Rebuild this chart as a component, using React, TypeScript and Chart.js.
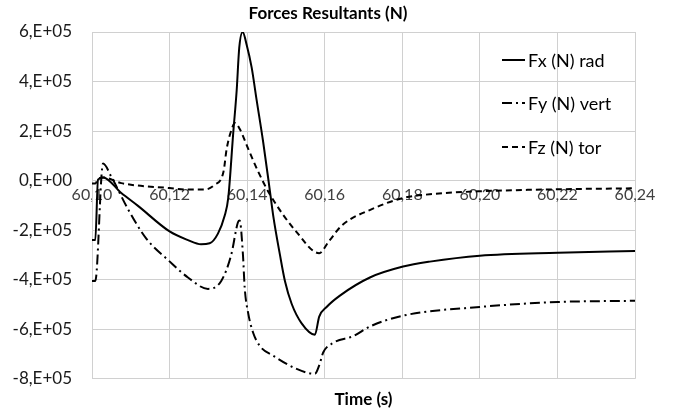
import React, { useEffect, useRef } from "react";
import { Chart, registerables } from "chart.js";

Chart.register(...registerables);

const FONT = "Lato, 'Open Sans', sans-serif";

const fxTime = [60.1, 60.10085, 60.10155, 60.10284, 60.10755, 60.11186, 60.12, 60.12474, 60.1281, 60.13033, 60.13247, 60.1342, 60.13513, 60.13642, 60.1373, 60.13796, 60.13884, 60.13987, 60.14116, 60.14245, 60.14415, 60.14588, 60.14673, 60.14845, 60.14974, 60.15147, 60.15405, 60.15747, 60.15858, 60.16049, 60.16392, 60.17165, 60.1802, 60.1871, 60.2, 60.2201, 60.24];
const fxValues = [-2.4e5, -2.4e5, 4e3, 1.3e4, -5.0e4, -1.02e5, -2.05e5, -2.4e5, -2.57e5, -2.53e5, -2.14e5, -1.42e5, -7e4, 1.94e5, 3.64e5, 5.36e5, 6.0e5, 5.49e5, 4.57e5, 3.25e5, 1.54e5, -4.3e4, -1.42e5, -2.99e5, -4.05e5, -4.97e5, -5.76e5, -6.22e5, -5.49e5, -5.1e5, -4.64e5, -3.91e5, -3.47e5, -3.27e5, -3.03e5, -2.91e5, -2.84e5];

const fyTime = [60.1, 60.10085, 60.10284, 60.10497, 60.10928, 60.114, 60.12, 60.12474, 60.1299, 60.13332, 60.1359, 60.13763, 60.13807, 60.13892, 60.13936, 60.14028, 60.14157, 60.1433, 60.14673, 60.15276, 60.15747, 60.15858, 60.15961, 60.16219, 60.16735, 60.17165, 60.1802, 60.2, 60.2201, 60.24];
const fyValues = [-4.05e5, -4.05e5, 6.9e4, 1.6e4, -1.15e5, -2.34e5, -3.26e5, -3.91e5, -4.37e5, -4.05e5, -2.99e5, -1.68e5, -1.61e5, -2.99e5, -4.31e5, -5.36e5, -6.15e5, -6.68e5, -7.07e5, -7.6e5, -7.8e5, -7.46e5, -6.94e5, -6.55e5, -6.28e5, -5.89e5, -5.45e5, -5.1e5, -4.9e5, -4.85e5];

const fzTime = [60.1, 60.10085, 60.1015, 60.10284, 60.10755, 60.12, 60.12474, 60.129, 60.1316, 60.1339, 60.13472, 60.136, 60.13686, 60.13814, 60.14028, 60.14286, 60.14588, 60.15276, 60.15858, 60.16098, 60.16443, 60.17216, 60.1802, 60.1871, 60.2, 60.2201, 60.24];
const fzValues = [-1.2e4, -1.2e4, 5e3, 1.3e4, -1e4, -3.0e4, -3.6e4, -3.6e4, -1.7e4, 3.6e4, 1.28e5, 2.07e5, 2.33e5, 2.07e5, 1.28e5, 3.6e4, -5.6e4, -2.08e5, -2.93e5, -2.47e5, -1.81e5, -1.15e5, -7e4, -5.5e4, -4.3e4, -3.5e4, -3.1e4];

const seriesNames = ["Fx (N) rad", "Fy (N) vert", "Fz (N) tor"];
const seriesDashes = [[], [10, 4, 2, 4], [6, 4]];
const chartTitle = "Forces Resultants (N)";
const xTitle = "Time (s)";

const toPoints = (xs: number[], ys: number[]) => xs.map((x, i) => ({ x, y: ys[i] }));

function fmtY(v: number) {
  if (v === 0) return "0,E+00";
  const e = Math.floor(Math.log10(Math.abs(v)) + 1e-9);
  const m = Math.round(v / Math.pow(10, e));
  return `${m},E+${String(e).padStart(2, "0")}`;
}

export default function App() {
  const ref = useRef<HTMLCanvasElement | null>(null);
  useEffect(() => {
    if (!ref.current) return;
    const textPlugin = {
      id: "texts",
      afterDraw(chart: any) {
        const ctx = chart.ctx;
        const area = chart.chartArea;
        ctx.save();
        ctx.fillStyle = "#000";
        ctx.textAlign = "center";
        ctx.textBaseline = "middle";
        ctx.font = `bold 17px ${FONT}`;
        ctx.fillText(chartTitle, 328, 14);
        ctx.fillText(xTitle, (area.left + area.right) / 2, 400);
        // legend
        const ys = [60, 103, 147];
        ctx.font = `18px ${FONT}`;
        ctx.textAlign = "left";
        seriesNames.forEach((name, i) => {
          ctx.strokeStyle = "#000";
          ctx.lineWidth = 2;
          ctx.setLineDash(seriesDashes[i]);
          ctx.beginPath();
          ctx.moveTo(502, ys[i]);
          ctx.lineTo(525, ys[i]);
          ctx.stroke();
          ctx.setLineDash([]);
          ctx.fillStyle = "#000";
          ctx.fillText(name, 528, ys[i] + 1);
        });
        ctx.restore();
      },
    };
    const chart = new Chart(ref.current, {
      type: "line",
      data: {
        datasets: [
          { label: seriesNames[0], data: toPoints(fxTime, fxValues), borderDash: seriesDashes[0] },
          { label: seriesNames[1], data: toPoints(fyTime, fyValues), borderDash: seriesDashes[1] },
          { label: seriesNames[2], data: toPoints(fzTime, fzValues), borderDash: seriesDashes[2] },
        ].map((d) => ({
          ...d,
          borderColor: "#000",
          borderWidth: 2,
          pointRadius: 0,
          fill: false,
          cubicInterpolationMode: "monotone" as const,
        })),
      },
      options: {
        animation: false,
        responsive: false,
        layout: { padding: { top: 32, bottom: 22, right: 43, left: 0 } },
        plugins: { legend: { display: false }, title: { display: false }, tooltip: { enabled: false } },
        scales: {
          x: {
            type: "linear",
            position: { y: 0 } as any,
            min: 60.1,
            max: 60.24,
            ticks: {
              stepSize: 0.02,
              color: "#404040",
              font: { family: FONT, size: 16 },
              padding: 5,
              maxRotation: 0,
              autoSkip: false,
              callback: (v: any) => Number(v).toFixed(2).replace(".", ","),
            },
            grid: { color: "#d0d0d0", drawTicks: false },
            border: { color: "#d0d0d0" },
          },
          y: {
            min: -8e5,
            max: 6e5,
            afterFit: (s: any) => {
              s.width = 92;
            },
            ticks: {
              stepSize: 2e5,
              color: "#1a1a1a",
              font: { family: FONT, size: 17 },
              padding: 20,
              callback: (v: any) => fmtY(Number(v)),
            },
            grid: { color: "#d0d0d0", drawTicks: false },
            border: { color: "#d0d0d0" },
          },
        },
      },
      plugins: [textPlugin],
    });
    return () => chart.destroy();
  }, []);
  return (
    <div style={{ position: "absolute", left: 0, top: 0, width: 678, height: 409, background: "#fff" }}>
      <canvas ref={ref} width={678} height={409} style={{ display: "block" }} />
    </div>
  );
}
